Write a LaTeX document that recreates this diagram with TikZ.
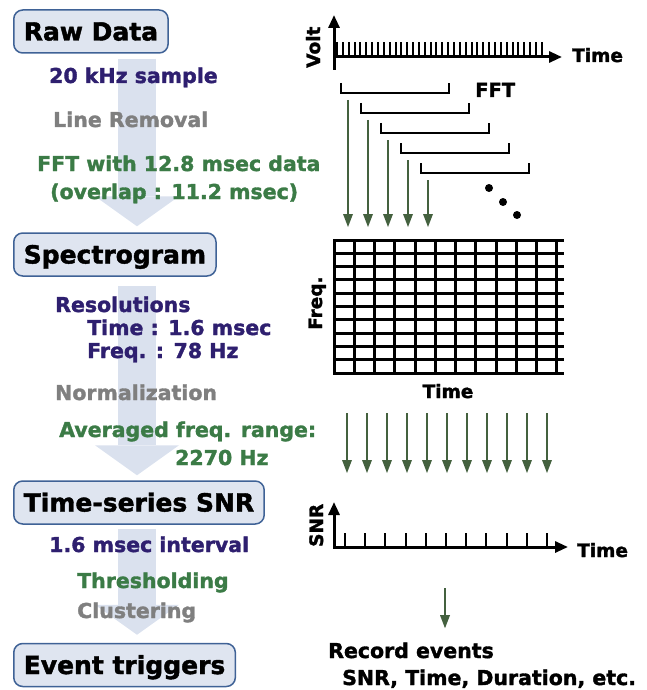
\documentclass[tikz,border=0pt]{standalone}
\usepackage{fontspec}
\setmainfont{DejaVu Sans}[BoldFeatures={FakeBold=1.6}]
\usetikzlibrary{%
	positioning,
	calc,
	arrows.meta
}
\definecolor{stagefill}{HTML}{DFE5F0}
\definecolor{stageline}{HTML}{3F6296}
\definecolor{flowfill}{HTML}{DAE1EE}
\definecolor{paramtext}{HTML}{2E1F6F}
\definecolor{steptext}{HTML}{3B7B46}
\definecolor{skiptext}{HTML}{7F7F7F}
\definecolor{fftarrow}{HTML}{44613F}

\begin{document}
\begin{tikzpicture}[x=1pt,y=-1pt,
		Stage/.style={draw=stageline,fill=stagefill,line width=1.5pt,rounded corners=9pt,font=\fontsize{25}{30}\selectfont\bfseries,text height=20pt,text depth=2pt,minimum height=43pt,inner xsep=10pt,anchor=west},
		flow/.style={draw=flowfill,line width=38pt,-{Triangle[width=84pt,length=30pt,line width=0pt]}},
		label/.style={font=\fontsize{20.5}{24}\selectfont\bfseries,anchor=base west,inner sep=0pt},
		param/.style={label,text=paramtext},
		stepname/.style={label,text=steptext},
		skipname/.style={label,text=skiptext},
		plottext/.style={font=\fontsize{18.5}{22}\selectfont\bfseries,inner sep=0pt},
		axis/.style={line width=3pt,-{Triangle[width=11pt,length=13pt]}},
		tick/.style={line width=2pt},
		bracket/.style={line width=2.8pt},
		cell/.style={line width=3pt,line cap=rect},
		down/.style={draw=fftarrow,line width=2.4pt,-{Triangle[width=10pt,length=13pt,line width=0pt]}}
	]
	\useasboundingbox (0,0) rectangle (647,690);
	
	%stages
	\node(raw) [Stage] at (13,31.5) {Raw Data};
	\node(spec) [Stage] at (13,254.5) {Spectrogram};
	\node(snr) [Stage] at (13,502.5) {Time-series SNR};
	\node(evt) [Stage] at (13,665) {Event triggers};
	
	%flow arrows
	\coordinate (flowx) at (137,0);
	\draw [flow,shorten <=5pt,shorten >=6pt] (raw.south -| flowx) -- (spec.north -| flowx);
	\draw [flow,shorten <=9pt,shorten >=5pt] (spec.south -| flowx) -- (snr.north -| flowx);
	\draw [flow,shorten <=4pt,shorten >=8pt] (snr.south -| flowx) -- (evt.north -| flowx);
	
	%raw data -> spectrogram
	\node(sample) [param] at (49,83) {20 kHz sample};
	\node(line) [skipname] at (53,127) {Line Removal};
	\node(fft) [stepname] at (37,171) {FFT with 12.8 msec data};
	\node(overlap) [stepname] at (50,199) {(overlap : 11.2 msec)};
	
	%spectrogram -> snr
	\node(res) [param] at (55,312) {Resolutions};
	\node(res-t) [param] at (87,335) {Time : 1.6 msec};
	\node(res-f) [param] at (87,358) {Freq. : 78 Hz};
	\node(norm) [skipname] at (55,400) {Normalization};
	\node(avg) [stepname] at (59,437) {Averaged freq. range:};
	\node(avg-hz) [stepname] at (175,465) {2270 Hz};
	
	%snr -> events
	\node(interval) [param] at (49,552) {1.6 msec interval};
	\node(thr) [stepname] at (77,588) {Thresholding};
	\node(clu) [skipname] at (77,618) {Clustering};
	
	%raw signal
	\draw [axis] (334,70) -- (334,15);
	\draw [axis] (334,57) -- (562,57);
	\foreach \i in {0,...,35}
		\draw [tick] (337+\i*5.85,57) -- ++(0,-15);
	\node(volt) [plottext,rotate=90,anchor=base west] at (320,68) {Volt};
	\node(time1) [plottext,anchor=base west] at (572,62) {Time};
	
	%fft windows
	\foreach \i in {0,...,4}{
		\draw [bracket] (341+20*\i,83+20*\i) -- ++(0,10) -- ++(108,0) -- ++(0,-10);
		\draw [down] (348+20*\i,100+20*\i) -- (348+20*\i,227);
	}
	\node(fftlbl) [plottext,font=\fontsize{19.5}{23}\selectfont\bfseries,anchor=base west] at (475,97) {FFT};
	\foreach \p in {(489,188),(503,202),(517,215)}
		\fill \p circle (4);
	
	%spectrogram grid
	\foreach \k in {0,...,11}
		\draw [cell] (334+20.27*\k,240) -- (334+20.27*\k,373.3);
	\foreach \j in {0,...,10}
		\draw [cell] (334,240+13.33*\j) -- (562,240+13.33*\j);
	\node(freq) [plottext,rotate=90,anchor=base west] at (322,330) {Freq.};
	\node(time2) [plottext,anchor=base] at (448,398) {Time};
	\foreach \i in {0,...,10}
		\draw [down] (347+20*\i,413) -- (347+20*\i,473);
	
	%snr series
	\draw [axis] (334,548.5) -- (334,502);
	\draw [axis] (334,547) -- (568,547);
	\foreach \i in {0,...,10}
		\draw [tick] (345+20.2*\i,547) -- ++(0,-14);
	\node(snrlbl) [plottext,rotate=90,anchor=base west] at (323,547) {SNR};
	\node(time3) [plottext,anchor=base west] at (577,557) {Time};
	
	%record
	\node(rec) [label,anchor=base west] at (328,658) {Record events};
	\node(rec-list) [label,anchor=base west] at (342,685) {SNR, Time, Duration, etc.};
	\draw [down,shorten >=14pt] (445,588) -- (rec.north -| 445,0);
	
\end{tikzpicture}
\end{document}
